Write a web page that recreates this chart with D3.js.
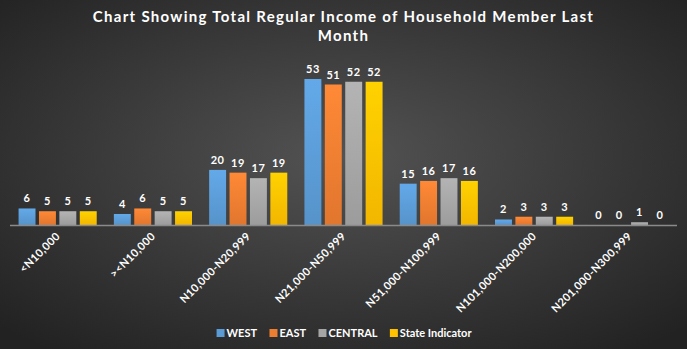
<!DOCTYPE html>
<html><head><meta charset="utf-8">
<script src="https://cdn.jsdelivr.net/npm/d3@7/dist/d3.min.js"></script>
<style>html,body{margin:0;padding:0;background:#333;}svg{display:block;}</style>
</head><body>
<script>
const categories = ["<N10,000", "><N10,000", "N10,000-N20,999", "N21,000-N50,999", "N51,000-N100,999", "N101,000-N200,000", "N201,000-N300,999"];
const seriesNames = ["WEST", "EAST", "CENTRAL", "State Indicator"];
const west = [6, 4, 20, 53, 15, 2, 0];
const east = [5, 6, 19, 51, 16, 3, 0];
const central = [5, 5, 17, 52, 17, 3, 1];
const stateIndicator = [5, 5, 19, 52, 16, 3, 0];
const colors = ["#5B9BD5", "#ED7D31", "#A5A5A5", "#FFC000"];
const titleLines = ["Chart Showing Total Regular Income of Household Member Last", "Month"];

const values = [west, east, central, stateIndicator];
const W = 687, H = 349;
const svg = d3.select("body").append("svg").attr("width", W).attr("height", H);
const defs = svg.append("defs");
const rg = defs.append("radialGradient").attr("id", "bg").attr("cx", "50%").attr("cy", "45%").attr("r", "70%");
rg.append("stop").attr("offset", "0%").attr("stop-color", "#535353");
rg.append("stop").attr("offset", "100%").attr("stop-color", "#222222");
svg.append("rect").attr("width", W).attr("height", H).attr("fill", "url(#bg)");

colors.forEach((c, i) => {
  const g = defs.append("linearGradient").attr("id", "g" + i).attr("x1", 0).attr("y1", 0).attr("x2", 0).attr("y2", 1);
  g.append("stop").attr("offset", "0%").attr("stop-color", d3.color(c).brighter(0.25));
  g.append("stop").attr("offset", "100%").attr("stop-color", d3.color(c).darker(0.15));
});

const font = "Lato, 'Open Sans', sans-serif";
svg.selectAll("text.title").data(titleLines).join("text")
  .attr("x", W / 2) .attr("y", (d, i) => 22 + i * 19)
  .attr("text-anchor", "middle").attr("fill", "#fff")
  .style("font-family", font).style("font-weight", "bold").style("font-size", "15px")
  .style("letter-spacing", "1.3px")
  .text(d => d);

const baseY = 225;
const x0 = d3.scaleBand().domain(categories).range([10, 677]).paddingInner(0.18).paddingOuter(0.09);
const x1 = d3.scaleBand().domain(seriesNames).range([0, x0.bandwidth()]).paddingInner(0.17);
const y = d3.scaleLinear().domain([0, 53]).range([baseY, 79]);

const groups = svg.selectAll("g.cat").data(categories).join("g")
  .attr("transform", d => `translate(${x0(d)},0)`);

groups.each(function (cat, ci) {
  const g = d3.select(this);
  seriesNames.forEach((s, si) => {
    const v = values[si][ci];
    if (v > 0) {
      g.append("rect").attr("x", x1(s)).attr("y", y(v)).attr("width", x1.bandwidth())
        .attr("height", baseY - y(v)).attr("fill", `url(#g${si})`);
    }
    g.append("text").attr("x", x1(s) + x1.bandwidth() / 2).attr("y", y(v) - 6)
      .attr("text-anchor", "middle").attr("fill", "#fff")
      .style("font-family", font).style("font-weight", "bold").style("font-size", "11px")
      .style("letter-spacing", "0.5px")
      .text(v);
  });
});

svg.append("line").attr("x1", 10).attr("x2", 677).attr("y1", baseY + 0.5).attr("y2", baseY + 0.5)
  .attr("stroke", "#8a8a8a").attr("stroke-width", 1.5);

svg.selectAll("text.xl").data(categories).join("text")
  .attr("transform", d => `translate(${x0(d) + x0.bandwidth() / 2 + 3},${baseY + 12}) rotate(-45)`)
  .attr("text-anchor", "end").attr("fill", "#fff")
  .style("font-family", font).style("font-weight", "bold").style("font-size", "11px")
  .style("letter-spacing", "0.3px")
  .text(d => d);

// legend
const legendItems = seriesNames.map((s, i) => ({ s, c: colors[i] }));
const lg = svg.append("g");
let lx = 0;
const items = lg.selectAll("g").data(legendItems).join("g");
items.append("rect").attr("width", 8).attr("height", 8).attr("y", -8).attr("fill", d => d.c);
items.append("text").attr("x", 10).attr("y", 0).attr("fill", "#fff")
  .style("font-family", font).style("font-weight", "bold").style("font-size", "11px")
  .text(d => d.s);
items.each(function () {
  const w = this.getBBox().width;
  d3.select(this).attr("transform", `translate(${lx},0)`);
  lx += w + 12;
});
const totalW = lx - 12;
lg.attr("transform", `translate(${(W - totalW) / 2 + 1},337)`);
</script>
</body></html>
